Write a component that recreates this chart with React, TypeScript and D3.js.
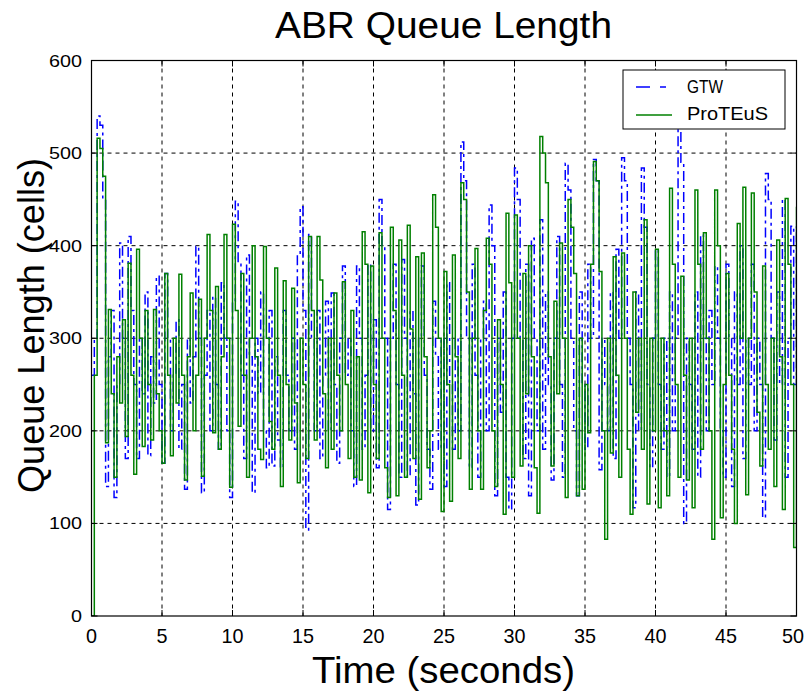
import React from "react";
import * as d3 from "d3";

// sample spacing (seconds)
const step = 0.2;

// GTW queue length, one row per second (t = .0 .2 .4 .6 .8)
const gtw = [
  260, 300, 540, 530, 450,
  140, 280, 330, 128, 250,
  403, 300, 170, 410, 330,
  250, 170, 300, 240, 350,
  173, 280, 230, 367, 250,
  165, 370, 300, 200, 260,
  320, 180, 250, 137, 300,
  230, 280, 399, 300, 133,
  260, 330, 200, 345, 250,
  180, 360, 300, 200, 128,
  340, 448, 380, 260, 170,
  390, 280, 133, 300, 240,
  350, 200, 160, 330, 162,
  280, 190, 160, 330, 260,
  200, 300, 180, 390, 442,
  330, 93, 412, 300, 200,
  330, 170, 260, 340, 200,
  349, 250, 165, 300, 378,
  260, 300, 200, 140, 378,
  300, 180, 260, 380, 200,
  320, 160, 450, 400, 300,
  115, 300, 380, 250, 150,
  385, 300, 150, 330, 240,
  120, 300, 378, 260, 180,
  137, 340, 280, 180, 300,
  140, 360, 250, 180, 300,
  200, 512, 470, 300, 160,
  380, 260, 150, 300, 340,
  200, 444, 400, 130, 300,
  220, 350, 150, 115, 300,
  484, 450, 300, 170, 380,
  130, 408, 300, 200, 428,
  180, 350, 250, 147, 300,
  410, 250, 150, 489, 460,
  300, 200, 130, 350, 250,
  180, 380, 300, 493, 470,
  158, 300, 250, 200, 350,
  170, 396, 300, 495, 470,
  300, 250, 117, 350, 200,
  484, 420, 250, 160, 300,
  396, 250, 180, 300, 150,
  350, 200, 300, 525, 490,
  100, 300, 250, 180, 350,
  150, 412, 300, 200, 330,
  250, 378, 300, 200, 150,
  380, 300, 140, 350, 250,
  400, 170, 300, 250, 380,
  200, 300, 250, 106, 478,
  450, 300, 190, 350, 250,
  450, 150, 300, 421, 250,
  421,
];

// ProTEuS queue length, same sampling
const proteus = [
  0, 260, 516, 505, 475,
  187, 331, 240, 150, 280,
  230, 320, 194, 381, 260,
  153, 396, 300, 183, 330,
  250, 190, 331, 240, 200,
  165, 370, 260, 173, 300,
  230, 369, 260, 147, 280,
  349, 200, 260, 342, 151,
  300, 412, 330, 198, 356,
  180, 280, 412, 300, 139,
  423, 330, 205, 370, 260,
  150, 300, 400, 280, 180,
  169, 399, 300, 210, 180,
  376, 260, 140, 362, 250,
  190, 354, 230, 144, 300,
  250, 170, 410, 330, 190,
  410, 363, 240, 160, 300,
  180, 349, 260, 200, 361,
  250, 170, 330, 150, 280,
  147, 415, 380, 133, 378,
  250, 170, 414, 300, 160,
  128, 420, 330, 130, 406,
  260, 150, 422, 310, 170,
  388, 126, 392, 280, 160,
  200, 455, 420, 300, 113,
  372, 250, 124, 390, 280,
  170, 468, 450, 350, 137,
  300, 397, 200, 137, 330,
  408, 380, 200, 140, 320,
  250, 110, 435, 360, 150,
  433, 300, 162, 370, 240,
  400, 280, 160, 111, 518,
  500, 468, 280, 162, 340,
  240, 403, 300, 128, 450,
  420, 370, 130, 300, 137,
  250, 198, 380, 491, 470,
  372, 200, 83, 300, 176,
  388, 260, 150, 392, 300,
  180, 110, 350, 220, 300,
  180, 428, 121, 300, 200,
  396, 117, 300, 200, 130,
  462, 380, 250, 150, 367,
  260, 147, 300, 117, 460,
  380, 180, 414, 300, 200,
  83, 460, 400, 106, 250,
  370, 260, 180, 100, 424,
  300, 463, 131, 300, 457,
  350, 220, 162, 378, 250,
  180, 300, 140, 406, 280,
  115, 451, 380, 250, 74,
  442,
];

const xTicks = [0, 5, 10, 15, 20, 25, 30, 35, 40, 45, 50];
const yTicks = [0, 100, 200, 300, 400, 500, 600];
const seriesNames = ["GTW", "ProTEuS"];

const font = "Arial, 'Liberation Sans', sans-serif";

export default function App() {
  const width = 805,
    height = 692;
  const left = 91.5,
    right = 796.5,
    top = 60.5,
    bottom = 616;

  const x = d3.scaleLinear().domain([0, 50]).range([left, right]);
  const y = d3.scaleLinear().domain([0, 600]).range([bottom, top]);

  const line = d3
    .line<number>()
    .x((d, i) => x(i * step))
    .y((d) => y(d))
    .curve(d3.curveStepAfter);

  return (
    <svg
      width={width}
      height={height}
      style={{ position: "absolute", left: 0, top: 0, background: "#fff" }}
      fontFamily={font}
    >
      <defs>
        <clipPath id="plot">
          <rect x={left} y={top} width={right - left} height={bottom - top} />
        </clipPath>
      </defs>

      {/* grid */}
      <g stroke="#000" strokeWidth={1} strokeDasharray="4,4">
        {xTicks.slice(1, -1).map((t) => (
          <line key={"gx" + t} x1={x(t)} x2={x(t)} y1={top} y2={bottom} />
        ))}
        {yTicks.slice(1, -1).map((t) => (
          <line key={"gy" + t} x1={left} x2={right} y1={y(t)} y2={y(t)} />
        ))}
      </g>

      {/* series */}
      <g clipPath="url(#plot)" fill="none">
        <path
          d={line(gtw) || ""}
          stroke="#0000ff"
          strokeWidth={1.5}
          strokeDasharray="10,4,3,4"
        />
        <path d={line(proteus) || ""} stroke="#008000" strokeWidth={1.5} />
      </g>

      {/* ticks inside the box */}
      <g stroke="#000" strokeWidth={1}>
        {xTicks.map((t) => (
          <g key={"tx" + t}>
            <line x1={x(t)} x2={x(t)} y1={bottom} y2={bottom - 6} />
            <line x1={x(t)} x2={x(t)} y1={top} y2={top + 6} />
          </g>
        ))}
        {yTicks.map((t) => (
          <g key={"ty" + t}>
            <line x1={left} x2={left + 6} y1={y(t)} y2={y(t)} />
            <line x1={right} x2={right - 6} y1={y(t)} y2={y(t)} />
          </g>
        ))}
      </g>

      <rect
        x={left}
        y={top}
        width={right - left}
        height={bottom - top}
        fill="none"
        stroke="#000"
        strokeWidth={1.2}
      />

      {/* tick labels */}
      <g fill="#000">
        {xTicks.map((t, i) => {
          const last = i === xTicks.length - 1;
          return (
            <text
              key={"lx" + t}
              x={last ? width - 1 : x(t)}
              y={643}
              fontSize={21}
              textAnchor={last ? "end" : "middle"}
              textLength={String(t).length * 11}
              lengthAdjust="spacingAndGlyphs"
            >
              {t}
            </text>
          );
        })}
        {yTicks.map((t) => (
          <text
            key={"ly" + t}
            x={82}
            y={y(t) + 6}
            fontSize={17}
            textAnchor="end"
            textLength={String(t).length * 11}
            lengthAdjust="spacingAndGlyphs"
          >
            {t}
          </text>
        ))}
      </g>

      {/* titles */}
      <text
        x={443.5}
        y={38}
        fontSize={36}
        textAnchor="middle"
        fill="#000"
        textLength={337}
        lengthAdjust="spacingAndGlyphs"
      >
        ABR Queue Length
      </text>
      <text
        x={443.5}
        y={683}
        fontSize={37}
        textAnchor="middle"
        fill="#000"
        textLength={263}
        lengthAdjust="spacingAndGlyphs"
      >
        Time (seconds)
      </text>
      <text
        transform="translate(44,325.5) rotate(-90)"
        fontSize={36}
        textAnchor="middle"
        fill="#000"
        textLength={335}
        lengthAdjust="spacingAndGlyphs"
      >
        Queue Length (cells)
      </text>

      {/* legend */}
      <g>
        <rect x={623} y={70} width={162} height={59} fill="#fff" stroke="#000" strokeWidth={1} />
        <line x1={636} x2={672} y1={87} y2={87} stroke="#0000ff" strokeWidth={1.5} strokeDasharray="14,10,6,10" />
        <line x1={636} x2={672} y1={115} y2={115} stroke="#008000" strokeWidth={1.5} />
        <text x={687} y={93} fontSize={18} fill="#000" textLength={36} lengthAdjust="spacingAndGlyphs">
          {seriesNames[0]}
        </text>
        <text x={687} y={120} fontSize={18} fill="#000" textLength={81} lengthAdjust="spacingAndGlyphs">
          {seriesNames[1]}
        </text>
      </g>
    </svg>
  );
}
